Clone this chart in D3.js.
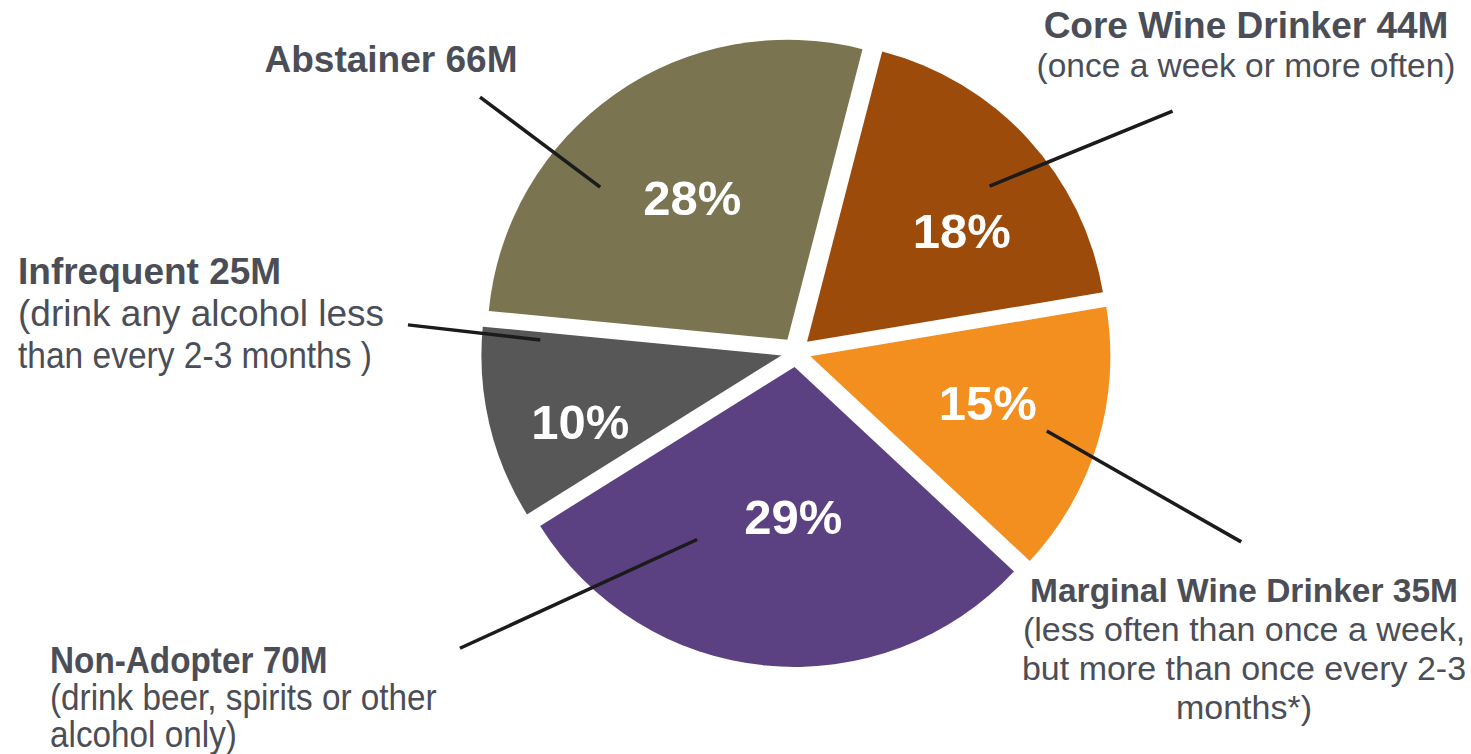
<!DOCTYPE html>
<html>
<head>
<meta charset="utf-8">
<script src="https://cdn.jsdelivr.net/npm/d3@7"></script>
<style>
  html, body { margin: 0; padding: 0; background: #fff; }
  svg { display: block; font-family: "Liberation Sans", Arial, sans-serif; }
</style>
</head>
<body>
<div id="chart"></div>
<script>
// data, clockwise from the top
const categories = ["Core Wine Drinker", "Marginal Wine Drinker", "Non-Adopter", "Infrequent", "Abstainer"];
const millions = [44, 35, 70, 25, 66];
const percents = [18, 15, 29, 10, 28];
const notes = [
    ["(once a week or more often)"],
    ["(less often than once a week,", "but more than once every 2-3", "months*)"],
    ["(drink beer, spirits or other", "alcohol only)"],
    ["(drink any alcohol less", "than every 2-3 months )"],
    []
];
const colors = ["#9c4b0b", "#f38f1f", "#5b4181", "#575757", "#7a7451"];

// layout
const W = 1471, H = 754;
const cx = 796, cy = 352, R = 300, explode = 15;
const deg = Math.PI / 180;
const textColor = "#4b4e56";

// percent label nudges (px) from the default centroid
const pctR = 195;
const pctNudge = [[22, 10], [5, -6], [16, -30], [-26, 25], [8, 5]];

// leader lines in polar form around the pie centre: [angle, r] inner, [angle, r] outer
const leaders = [
    [[49.4, 255], [57.4, 447]],
    [[107.5, 263], [113.1, 484]],
    [[207.8, 212], [228.6, 448]],
    [[272.7, 256], [274.0, 389]],
    [[310.1, 256], [308.9, 406]]
];

// label blocks (fit: optional widths for note lines that run narrower in the original)
const blocks = [
    { x: 1246, y: 38, anchor: "middle", bold: 37, reg: 33.5, lh: 39, sx: 1 },
    { x: 1244, y: 602, anchor: "middle", bold: 33.5, reg: 34, lh: 39, sx: 1 },
    { x: 50, y: 673, anchor: "start", bold: 37, reg: 37, lh: 37, sx: 0.9 },
    { x: 18, y: 284, anchor: "start", bold: 37, reg: 37, lh: 42, sx: 1, fit: [null, 354] },
    { x: 391, y: 72, anchor: "middle", bold: 37, reg: 37, lh: 40, sx: 1 }
];

const svg = d3.select("#chart").append("svg")
    .attr("width", W)
    .attr("height", H);

const pie = d3.pie()
    .sort(null)
    .value(d => d)
    .startAngle(14.5 * deg)
    .endAngle(374.5 * deg);

const arcs = pie(millions);
const arc = d3.arc().innerRadius(0).outerRadius(R);

const g = svg.append("g").attr("transform", `translate(${cx},${cy})`);

const slices = g.selectAll(".slice")
    .data(arcs)
    .enter().append("g")
    .attr("class", "slice")
    .attr("transform", d => {
        const p = d3.pointRadial((d.startAngle + d.endAngle) / 2, explode);
        return `translate(${p[0]},${p[1]})`;
    });

slices.append("path")
    .attr("d", arc)
    .attr("fill", (d, i) => colors[i]);

// leader lines
g.selectAll(".leader")
    .data(leaders)
    .enter().append("line")
    .attr("class", "leader")
    .attr("x1", d => d3.pointRadial(d[0][0] * deg, d[0][1])[0])
    .attr("y1", d => d3.pointRadial(d[0][0] * deg, d[0][1])[1])
    .attr("x2", d => d3.pointRadial(d[1][0] * deg, d[1][1])[0])
    .attr("y2", d => d3.pointRadial(d[1][0] * deg, d[1][1])[1])
    .attr("stroke", "#1b1b1b")
    .attr("stroke-width", 3.5);

// percentages
g.selectAll(".pct")
    .data(arcs)
    .enter().append("text")
    .attr("class", "pct")
    .attr("x", (d, i) => d3.pointRadial((d.startAngle + d.endAngle) / 2, pctR)[0] + pctNudge[i][0])
    .attr("y", (d, i) => d3.pointRadial((d.startAngle + d.endAngle) / 2, pctR)[1] + pctNudge[i][1])
    .attr("dy", "0.36em")
    .attr("text-anchor", "middle")
    .attr("fill", "#fff")
    .style("font-size", "49px")
    .style("font-weight", "bold")
    .text((d, i) => percents[i] + "%");

// category labels
categories.forEach((cat, i) => {
    const b = blocks[i];
    const t = svg.append("g")
        .attr("transform", `translate(${b.x},${b.y}) scale(${b.sx},1)`)
        .append("text")
        .attr("text-anchor", b.anchor)
        .attr("fill", textColor);

    t.append("tspan")
        .attr("x", 0)
        .attr("y", 0)
        .style("font-weight", "bold")
        .style("font-size", b.bold + "px")
        .text(`${cat} ${millions[i]}M`);

    notes[i].forEach((line, j) => {
        const ts = t.append("tspan")
            .attr("x", 0)
            .attr("y", (j + 1) * b.lh)
            .style("font-size", b.reg + "px")
            .text(line);
        if (b.fit && b.fit[j]) {
            ts.attr("textLength", b.fit[j]).attr("lengthAdjust", "spacingAndGlyphs");
        }
    });
});
</script>
</body>
</html>
